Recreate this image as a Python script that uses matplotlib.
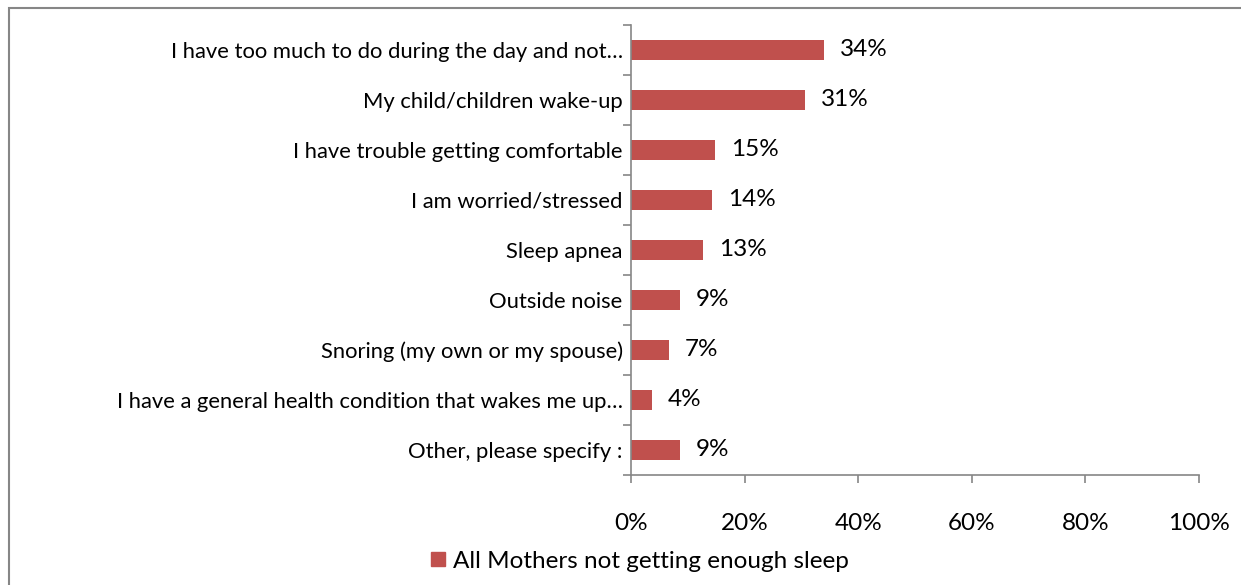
import matplotlib.pyplot as plt
from matplotlib.patches import Rectangle

plt.rcParams['font.family'] = ['Lato', 'DejaVu Sans']

categories = [
    'I have too much to do during the day and not\u2026',
    'My child/children wake-up',
    'I have trouble getting comfortable',
    'I am worried/stressed',
    'Sleep apnea',
    'Outside noise',
    'Snoring (my own or my spouse)',
    'I have a general health condition that wakes me up\u2026',
    'Other, please specify :',
]
values = [0.34, 0.306, 0.148, 0.143, 0.127, 0.086, 0.067, 0.037, 0.086]
labels = ['34%', '31%', '15%', '14%', '13%', '9%', '7%', '4%', '9%']
xticks = [0, 0.2, 0.4, 0.6, 0.8, 1.0]
xticklabels = ['0%', '20%', '40%', '60%', '80%', '100%']
series = 'All Mothers not getting enough sleep'
color = '#C0504D'

fig = plt.figure(figsize=(12.41, 5.85), dpi=100)
# outer chart frame
fig.patches.append(Rectangle((9 / 1241, -0.01), 1.02, 1 - 8 / 585 + 0.01,
                             transform=fig.transFigure, fill=False,
                             edgecolor='#868686', linewidth=1.5))

ax = fig.add_axes([631 / 1241, 1 - 475 / 585, 568 / 1241, 450 / 585])
n = len(categories)
ypos = list(range(n))[::-1]
ax.barh(ypos, values, height=0.4, color=color)
for y, v, lab in zip(ypos, values, labels):
    ax.text(v + 0.028, y, lab, va='center', ha='left', fontsize=17.5)

ax.set_xlim(0, 1)
ax.set_ylim(-0.5, n - 0.5)
ax.set_xticks(xticks)
ax.set_xticklabels(xticklabels, fontsize=17.5)
ax.set_yticks(ypos)
ax.set_yticklabels(categories, fontsize=15.8)
ax.set_yticks([i - 0.5 for i in range(n + 1)], minor=True)
ax.tick_params(axis='y', which='major', length=0, pad=6)
ax.tick_params(axis='y', which='minor', length=6, color='#868686', width=1.2)
ax.tick_params(axis='x', length=6, color='#868686', width=1.2, pad=21)
for s in ['top', 'right']:
    ax.spines[s].set_visible(False)
for s in ['left', 'bottom']:
    ax.spines[s].set_color('#868686')
    ax.spines[s].set_linewidth(1.2)

handle = Rectangle((0, 0), 1, 1, color=color)
fig.legend([handle], [series], loc='center', bbox_to_anchor=(0.516, 1 - 561 / 585),
           frameon=False, fontsize=17.5, handlelength=0.55, handleheight=0.55,
           handletextpad=0.35)

fig.savefig('out.png', dpi=100)
